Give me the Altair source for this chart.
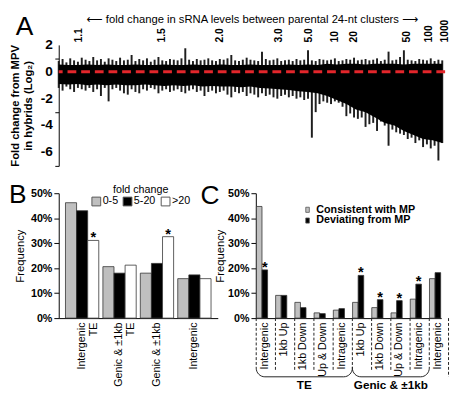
import math
import altair as alt
import pandas as pd

FONT = "Liberation Sans, Arial, DejaVu Sans"

# ---------------- Panel A data (ranked 24-nt clusters) ----------------
a_spike_hi = [0.8, 0.95, 0.7, 1.0, 0.85, 0.75, 1.05, 0.9, 0.8, 1.1,
              0.85, 0.95, 0.75, 1.0, 0.9, 0.8, 1.05, 0.85, 0.9, 1.25,
              0.8, 0.95, 0.85, 1.0, 0.75, 0.9, 1.1, 0.85, 0.8, 0.95,
              0.9, 0.85, 1.0, 1.75, 0.9, 0.8, 0.95, 0.85, 0.9, 1.0,
              0.85, 0.8, 0.95, 0.9, 1.0, 1.25, 0.85, 0.8, 0.9, 1.05,
              0.9, 0.85, 0.8, 1.5, 0.95, 0.85, 0.9, 1.0, 0.8, 0.85,
              0.9, 0.8, 0.95, 0.85, 0.9, 1.6, 0.85, 0.8, 0.95, 0.9,
              0.85, 0.9, 1.0, 0.8, 0.85, 0.95, 0.9, 1.05, 0.85, 0.9,
              0.95, 0.85, 0.9, 1.0, 0.8, 0.9, 1.5, 0.85, 0.9, 1.1,
              1.6, 0.9, 0.85, 0.8, 0.95, 0.9, 0.85, 1.0, 0.8, 0.9, 0.85]
a_spike_lo = [-1.2, -1.4, -1.1, -1.3, -1.5, -1.2, -1.3, -1.4, -1.2, -1.5,
              -1.3, -1.8, -1.2, -2.2, -1.3, -1.2, -1.4, -1.6, -1.7, -1.3,
              -1.5, -1.6, -1.3, -1.4, -1.2, -1.3, -1.6, -1.4, -1.3, -1.5,
              -1.4, -1.3, -1.5, -1.6, -1.4, -1.3, -1.5, -1.4, -1.8, -1.5,
              -1.4, -1.6, -1.5, -1.4, -1.7, -1.9, -1.5, -1.6, -1.5, -1.8,
              -1.6, -1.7, -1.9, -1.6, -1.8, -1.7, -1.9, -2.0, -1.8, -1.7,
              -1.9, -1.8, -2.0, -1.9, -2.1, -2.0, -4.9, -3.0, -2.4, -2.2,
              -2.3, -2.4, -2.2, -2.3, -2.6, -3.3, -3.1, -3.4, -3.5, -3.4,
              -4.1, -3.9, -3.8, -4.4, -3.7, -4.0, -5.5, -4.3, -4.5, -4.6,
              -4.7, -5.0, -4.9, -5.3, -5.1, -5.6, -5.4, -5.7, -5.5, -6.6, -5.3]
a_core_hi = [0.55, 0.5, 0.5, 0.55, 0.5, 0.55, 0.5, 0.5, 0.55, 0.5,
             0.5, 0.55, 0.5, 0.5, 0.55, 0.5, 0.5, 0.55, 0.5, 0.5,
             0.55, 0.5, 0.5, 0.5, 0.55, 0.5, 0.55, 0.5, 0.6, 0.55,
             0.6, 0.6, 0.55, 0.6, 0.6, 0.6, 0.55, 0.6, 0.6, 0.6, 0.6]
a_core_lo = [-0.9, -0.95, -0.9, -1.0, -0.95, -1.0, -0.95, -1.0, -1.0, -0.95,
             -1.0, -1.05, -1.0, -1.05, -1.0, -1.1, -1.05, -1.1, -1.1, -1.15,
             -1.1, -1.2, -1.25, -1.3, -1.35, -1.45, -1.5, -1.6, -1.8, -2.1,
             -2.4, -2.8, -3.0, -3.4, -3.8, -4.0, -4.4, -4.7, -5.0, -5.1, -5.3]
a_core_pos = [k * 2.5 for k in range(len(a_core_lo))]
a_tick_pos = [5.25, 26.75, 42, 57.25, 65.25, 72, 77, 90.75, 96.5, 100.5]
a_tick_lab = ["1.1", "1.5", "2.0", "3.0", "5.0", "10", "20", "50", "100", "1000"]
a_y_ticks = [-6, -4, -2, 0, 2]
a_y_labels = ["-6", "-4", "-2", "0", "2"]

# ---------------- Panel B data ----------------
b_cats = ["Intergenic|TE", "Genic & ±1kb|TE", "Genic & ±1kb", "Intergenic"]
b_series = ["0-5", "5-20", ">20"]
b_v_0_5 = [46.2, 20.6, 18.0, 15.8]
b_v_5_20 = [43.0, 18.0, 21.9, 17.3]
b_v_gt20 = [31.1, 21.2, 32.6, 15.8]
b_sig_gt20 = [True, False, True, False]

# ---------------- Panel C data ----------------
c_labels = ["Intergenic", "1kb Up", "1kb Down", "Up & Down", "Intragenic",
            "1kb Up", "1kb Down", "Up & Down", "Intragenic", "Intergenic"]
c_series = ["Consistent with MP", "Deviating from MP"]
c_consistent = [44.7, 9.1, 6.3, 2.1, 3.2, 6.3, 4.2, 2.1, 7.6, 15.8]
c_deviating = [19.3, 9.1, 4.2, 1.8, 3.8, 17.1, 7.4, 7.0, 13.6, 18.2]
c_sig_dev = [True, False, False, False, False, True, True, True, True, False]
c_brace_names = ["TE", "Genic & ±1kb"]
c_brace_from = [0, 5]
c_brace_to = [5, 9]

# ================= Panel A =================
dfA_sp = pd.DataFrame({"i": list(range(len(a_spike_hi))), "lo": a_spike_lo, "hi": a_spike_hi})
dfA_core = pd.DataFrame({"i": a_core_pos, "lo": a_core_lo, "hi": a_core_hi})
dfA_ylab = pd.DataFrame({"lo": a_y_ticks, "lab": a_y_labels})

lab_arr = "[" + ",".join("'%s'" % l for l in a_tick_lab) + "]"
pos_arr = "[" + ",".join(str(p) for p in a_tick_pos) + "]"
xA_scale = alt.Scale(domain=[0, 100.75], nice=False, zero=False)
yA_scale = alt.Scale(domain=[-7, 2], nice=False, zero=False)
top_axis = alt.Axis(orient="top", values=a_tick_pos,
                    labelExpr=lab_arr + "[indexof(" + pos_arr + ", datum.value)]",
                    labelAngle=-90, ticks=False, domain=False, grid=False, labelOverlap=False,
                    labelFontSize=10.5, labelFontWeight="bold", labelPadding=3,
                    title="⟵ fold change in sRNA levels between parental 24-nt clusters ⟶",
                    titleFontSize=11.5, titleFontWeight="normal", titlePadding=-5)
yA_axis = alt.Axis(values=list(range(-7, 3)), labels=False, tickSize=4,
                   title=["Fold change from MPV", "in hybrids (Log₂)"],
                   titleFontSize=11.5, titleFontWeight="bold", titlePadding=21, grid=False)

A_spikes = alt.Chart(dfA_sp).mark_rule(color="#1e1e1e", strokeWidth=2).encode(
    x=alt.X("i:Q", scale=xA_scale, axis=top_axis),
    y=alt.Y("lo:Q", scale=yA_scale, axis=yA_axis),
    y2="hi:Q")
A_core = alt.Chart(dfA_core).mark_area(color="black", interpolate="linear").encode(
    x=alt.X("i:Q", scale=xA_scale, axis=top_axis),
    y=alt.Y("lo:Q", scale=yA_scale, axis=yA_axis),
    y2="hi:Q")
A_zero = alt.Chart(pd.DataFrame({"z": [0]})).mark_rule(
    color="#e3262b", strokeWidth=3, strokeDash=[9, 5]).encode(y=alt.datum(0))
A_ylab = alt.Chart(dfA_ylab).mark_text(
    fontSize=14, fontWeight="bold", align="right", baseline="middle", font=FONT).encode(
    y=alt.Y("lo:Q", scale=yA_scale, axis=yA_axis), x=alt.value(-6), text="lab:N")
A_letter = alt.Chart(pd.DataFrame({"t": ["A"]})).mark_text(
    fontSize=27, align="center", baseline="middle", font=FONT).encode(
    text="t:N", x=alt.value(-35), y=alt.value(-18))
A = alt.layer(A_spikes, A_core, A_zero, A_ylab, A_letter).properties(width=396, height=124)

# ================= Panel B =================
rowsB = []
for j, ser in enumerate(b_series):
    vals = [b_v_0_5, b_v_5_20, b_v_gt20][j]
    for k, cat in enumerate(b_cats):
        rowsB.append({"catB": cat, "serB": ser, "valB": vals[k],
                      "starB": "*" if (j == 2 and b_sig_gt20[k]) else ""})
dfB = pd.DataFrame(rowsB)

xB = alt.X("catB:N", sort=b_cats, scale=alt.Scale(paddingInner=0.11, paddingOuter=0.18),
           axis=alt.Axis(title=None, labelAngle=-90, labelExpr="split(datum.label, '|')",
                         ticks=False, labelFontSize=11, labelPadding=4, labelLineHeight=12))
xoB = alt.XOffset("serB:N", sort=b_series, scale=alt.Scale(domain=b_series))
yB_scale = alt.Scale(domain=[0, 50], nice=False)
yB = alt.Y("valB:Q", scale=yB_scale,
           axis=alt.Axis(values=[0, 10, 20, 30, 40, 50], labelExpr="datum.value + '%'",
                         labelFontSize=11, labelFontWeight="bold", tickSize=5, labelPadding=2,
                         title="Frequency", titleFontSize=11.5, titleFontWeight="normal",
                         titlePadding=5, grid=False))
B_bars = alt.Chart(dfB).mark_bar(stroke="#333333", strokeWidth=0.8).encode(
    x=xB, xOffset=xoB, y=yB,
    fill=alt.Fill("serB:N", sort=b_series,
                  scale=alt.Scale(domain=b_series, range=["#bfbfbf", "#000000", "#ffffff"]),
                  legend=alt.Legend(orient="none", legendX=33, legendY=-9, direction="horizontal",
                                    title="fold change", titleFontSize=11, titleFontWeight="normal",
                                    titleAnchor="middle", titlePadding=1, labelFontSize=11,
                                    labelOffset=1, columnPadding=3, symbolType="square",
                                    symbolSize=81, symbolStrokeColor="#555555",
                                    symbolStrokeWidth=1, symbolOpacity=1)))
B_stars = alt.Chart(dfB).mark_text(fontSize=15, fontWeight="bold", baseline="alphabetic",
                                   dy=2, font=FONT).encode(
    x=xB, xOffset=xoB, y=yB, text="starB:N")
B_letter = alt.Chart(pd.DataFrame({"t": ["B"]})).mark_text(
    fontSize=27, align="center", baseline="middle", font=FONT).encode(
    text="t:N", x=alt.value(-42), y=alt.value(2))
B = alt.layer(B_bars, B_stars, B_letter).properties(width=163, height=128)

# ================= Panel C =================
c_keys = ["%d:%s" % (k, lab) for k, lab in enumerate(c_labels)]
rowsC = []
for j, ser in enumerate(c_series):
    vals = [c_consistent, c_deviating][j]
    for k, key in enumerate(c_keys):
        rowsC.append({"catC": key, "serC": ser, "valC": vals[k],
                      "starC": "*" if (j == 1 and c_sig_dev[k]) else ""})
dfC = pd.DataFrame(rowsC)

xC = alt.X("catC:N", sort=c_keys, scale=alt.Scale(paddingInner=0.42, paddingOuter=0.03),
           axis=alt.Axis(title=None, labelAngle=-90, labelExpr="split(datum.label, ':')[1]",
                         ticks=False, labelFontSize=11, labelPadding=4, labelOffset=3))
xoC = alt.XOffset("serC:N", sort=c_series, scale=alt.Scale(domain=c_series))
yC_scale = alt.Scale(domain=[0, 50], nice=False, clamp=False)
yC_axis = alt.Axis(values=[0, 10, 20, 30, 40, 50], labelExpr="datum.value + '%'",
                   labelFontSize=11, labelFontWeight="bold", tickSize=5, labelPadding=2,
                   title="Frequency", titleFontSize=11.5, titleFontWeight="normal",
                   titlePadding=2, grid=False)
yC = alt.Y("valC:Q", scale=yC_scale, axis=yC_axis)
C_bars = alt.Chart(dfC).mark_bar(stroke="#333333", strokeWidth=0.8).encode(
    x=xC, xOffset=xoC, y=yC,
    fill=alt.Fill("serC:N", sort=c_series,
                  scale=alt.Scale(domain=c_series, range=["#c0c0c0", "#000000"]),
                  legend=alt.Legend(orient="none", legendX=47, legendY=11, direction="vertical",
                                    title=None, labelFontSize=11, labelFontWeight="bold",
                                    labelOffset=3, rowPadding=0,
                                    symbolType="M-0.35,-0.5L0.35,-0.5L0.35,0.5L-0.35,0.5Z",
                                    symbolSize=110, symbolStrokeColor="#555555",
                                    symbolStrokeWidth=0.8, symbolOpacity=1)))
C_stars = alt.Chart(dfC).mark_text(fontSize=15, fontWeight="bold", baseline="alphabetic",
                                   dy=2, font=FONT).encode(
    x=alt.X("catC:N", sort=c_keys, scale=alt.Scale(paddingInner=0.42, paddingOuter=0.03), axis=None),
    xOffset=xoC, y=yC, text="starC:N")

# group boundaries (dashed) and braces below the axis
xq = alt.Scale(domain=[-0.02, 9.62], nice=False, zero=False)
bnd = list(range(11))
bnd_bottom = []
for b in bnd:
    if b in c_brace_from or b in c_brace_to:
        bnd_bottom.append(-19.5)
    elif b == 10:
        bnd_bottom.append(-23.5)
    else:
        bnd_bottom.append(-21.0)
dfR = pd.DataFrame({"b": bnd, "valC": [0] * len(bnd), "bot": bnd_bottom})
C_rules = alt.Chart(dfR).mark_rule(strokeDash=[3, 2], strokeWidth=1, color="#222222").encode(
    x=alt.X("b:Q", scale=xq, axis=None),
    y=yC, y2="bot:Q")


def brace_points(x0, x1, ytop, ybot, rx, ry, steps=8):
    pts = [(x0, ytop)]
    for s in range(steps + 1):
        t = math.pi / 2 * s / steps
        pts.append((x0 + rx - rx * math.cos(t), ybot + ry - ry * math.sin(t)))
    for s in range(steps + 1):
        t = math.pi / 2 * s / steps
        pts.append((x1 - rx + rx * math.sin(t), ybot + ry - ry * math.cos(t)))
    pts.append((x1, ytop))
    return pts


rowsBr = []
for name, x0, x1 in zip(c_brace_names, c_brace_from, c_brace_to):
    for o, (px, py) in enumerate(brace_points(x0, x1, -19.5, -23.5, 0.45, 3.5)):
        rowsBr.append({"brace": name, "o": o, "bx": px, "valC": py})
dfBr = pd.DataFrame(rowsBr)
C_braces = alt.Chart(dfBr).mark_line(color="#222222", strokeWidth=1).encode(
    x=alt.X("bx:Q", scale=xq, axis=None),
    y=yC, detail="brace:N", order="o:Q")

dfBt = pd.DataFrame({"name": c_brace_names,
                     "mx": [(a + b) / 2 for a, b in zip(c_brace_from, c_brace_to)],
                     "valC": [-26.8, -26.8]})
C_btext = alt.Chart(dfBt).mark_text(fontSize=12, fontWeight="bold", baseline="middle",
                                    font=FONT).encode(
    x=alt.X("mx:Q", scale=xq, axis=None),
    y=yC, text="name:N")
C_letter = alt.Chart(pd.DataFrame({"t": ["C"]})).mark_text(
    fontSize=27, align="center", baseline="middle", font=FONT).encode(
    text="t:N", x=alt.value(-47), y=alt.value(3))

C = alt.layer(C_bars, C_stars, C_rules, C_braces, C_btext, C_letter).resolve_scale(
    x="independent").properties(width=190, height=128)

bottom = alt.hconcat(B, C, spacing=39, bounds="flush").resolve_scale(
    fill="independent", xOffset="independent", y="independent", x="independent")
chart = alt.vconcat(A, bottom, spacing=28, bounds="flush").properties(
    padding={"left": 0, "top": 0, "right": 0, "bottom": 0}
).configure(font=FONT).configure_view(stroke=None).configure_axis(
    labelColor="black", titleColor="black", domainColor="black", tickColor="black",
    labelFont=FONT, titleFont=FONT
).configure_legend(labelFont=FONT, titleFont=FONT, labelColor="black", titleColor="black")

chart.save("out.html", embed_options={"renderer": "svg", "actions": False})
